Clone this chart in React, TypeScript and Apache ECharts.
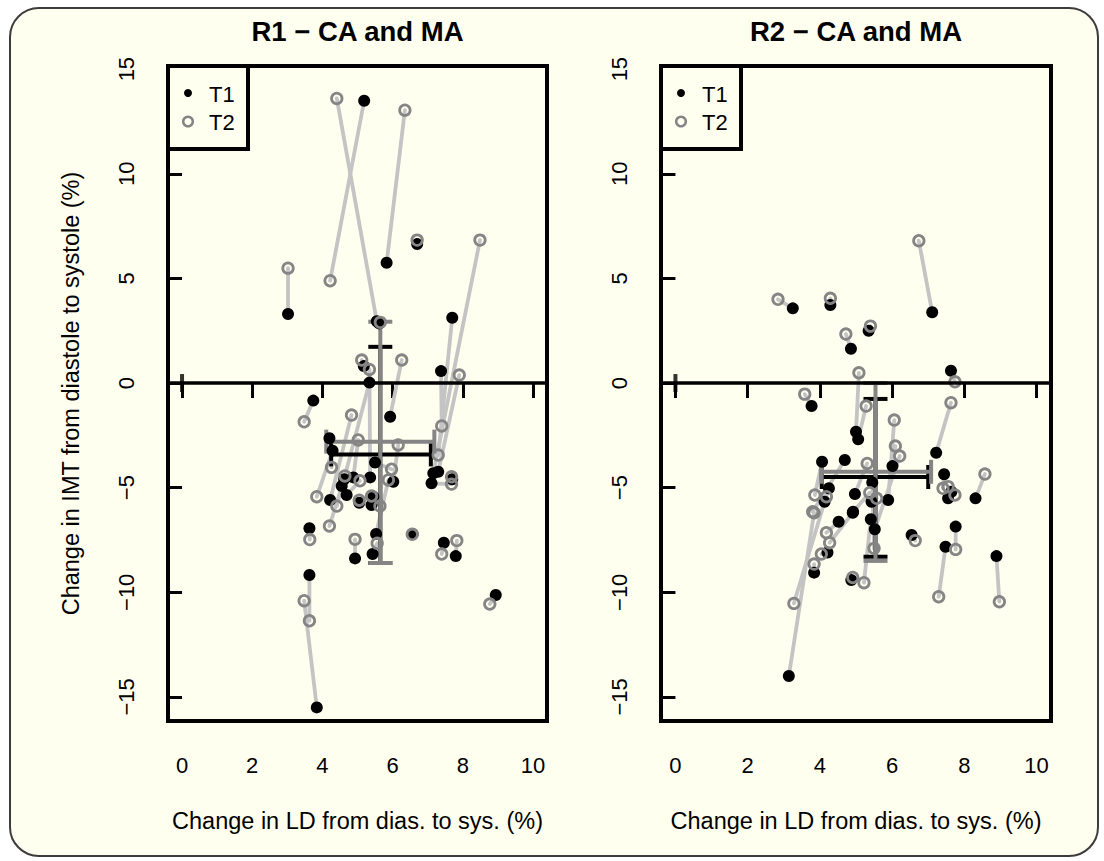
import React, { useEffect, useRef } from "react";
import * as echarts from "echarts";

const FONT = "'Liberation Sans', Arial, sans-serif";

// Axis ticks
const xTicks = [0, 2, 4, 6, 8, 10];
const yTicks = [-15, -10, -5, 0, 5, 10, 15];

const panelTitles = ["R1 \u2212 CA and MA", "R2 \u2212 CA and MA"];
const xAxisTitle = "Change in LD from dias. to sys. (%)";
const yAxisTitle = "Change in IMT from diastole to systole (%)";
const legendLabels = ["T1", "T2"];

// R1 — T1 (black) and T2 (grey) values per subject
const r1T1X = [5.19, 5.55, 5.83, 3.02, 6.7, 7.7, 7.38, 5.34, 5.18, 5.93, 3.74, 4.22, 4.2, 4.29, 7.16, 7.3, 7.11, 7.7, 5.36, 4.88, 6.02, 4.55, 4.69, 5.4, 5.05, 3.63, 4.93, 5.53, 5.43, 6.57, 7.46, 7.8, 3.63, 3.84, 8.94, 5.5, 5.45, 4.62, 5.62];
const r1T1Y = [13.49, 2.95, 5.75, 3.3, 6.64, 3.12, 0.57, 0.02, 0.81, -1.61, -0.84, -5.59, -2.64, -3.23, -4.31, -4.24, -4.79, -4.6, -4.51, -4.51, -4.72, -4.92, -5.35, -5.83, -5.72, -6.94, -8.38, -7.21, -8.17, -7.21, -7.63, -8.27, -9.17, -15.5, -10.13, -3.8, -5.43, -4.6, 2.85];
const r1T2X = [4.22, 4.41, 6.35, 3.02, 6.7, 7.3, 7.4, 4.64, 5.12, 6.26, 3.48, 4.83, 4.26, 3.84, 8.49, 7.9, 7.68, 7.68, 5.34, 5.02, 6.16, 4.41, 5.07, 5.4, 5.05, 3.64, 4.93, 5.88, 5.56, 6.56, 7.4, 7.83, 3.63, 3.48, 8.77, 5.97, 5.64, 4.2, 5.65];
const r1T2Y = [4.89, 13.6, 13.04, 5.49, 6.83, -3.44, -2.05, -4.44, 1.1, 1.1, -1.85, -1.53, -4.03, -5.43, 6.83, 0.38, -4.83, -4.48, 0.65, -2.72, -2.96, -5.88, -4.67, -5.4, -5.6, -7.48, -7.47, -4.63, -7.66, -7.23, -8.17, -7.53, -11.36, -10.4, -10.56, -4.12, -5.88, -6.83, 2.9];

// R2 — T1 (black) and T2 (grey) values per subject
const r2T1X = [3.25, 4.29, 4.86, 5.35, 7.11, 7.63, 3.77, 5.0, 5.06, 7.22, 5.89, 6.01, 5.52, 4.69, 4.25, 4.13, 4.06, 4.97, 4.92, 5.43, 4.52, 4.21, 4.91, 3.84, 3.14, 4.87, 5.41, 5.45, 6.54, 7.76, 7.48, 8.89, 8.31, 7.44, 7.64, 7.55];
const r2T1Y = [3.57, 3.73, 1.64, 2.5, 3.38, 0.59, -1.1, -2.33, -2.69, -3.33, -5.59, -3.97, -6.99, -3.68, -5.03, -5.67, -3.76, -5.3, -6.15, -5.67, -6.63, -8.1, -6.2, -9.06, -14.0, -9.41, -6.51, -4.75, -7.26, -6.86, -7.82, -8.27, -5.51, -4.36, -5.19, -5.51];
const r2T2X = [2.84, 4.29, 4.72, 5.4, 6.74, 7.74, 3.58, 5.08, 5.28, 7.63, 6.06, 6.09, 6.21, 3.8, 4.18, 3.28, 3.86, 5.31, 5.38, 5.57, 4.18, 4.04, 4.27, 3.84, 3.84, 4.91, 5.22, 5.5, 6.64, 7.76, 7.29, 8.97, 8.57, 7.41, 7.74, 7.55];
const r2T2Y = [4.0, 4.05, 2.34, 2.72, 6.8, 0.06, -0.53, 0.49, -1.1, -0.94, -1.77, -3.01, -3.49, -6.15, -5.43, -10.53, -5.35, -3.84, -5.24, -5.51, -7.15, -8.17, -7.63, -8.65, -6.2, -9.29, -9.54, -7.9, -7.53, -7.95, -10.21, -10.45, -4.35, -5.03, -5.35, -4.95];

// Mean ± SD crosses: [meanX, meanY, xLow, xHigh, yLow, yHigh]
const r1CrossT1 = [5.65, -3.41, 4.25, 7.09, -8.6, 1.73];
const r1CrossT2 = [5.65, -2.8, 4.11, 7.19, -8.6, 2.93];
const r2CrossT1 = [5.54, -4.49, 4.05, 7.0, -8.3, -0.76];
const r2CrossT2 = [5.54, -4.24, 4.05, 7.08, -8.5, 0.0];

const panels = [
  { title: panelTitles[0], t1x: r1T1X, t1y: r1T1Y, t2x: r1T2X, t2y: r1T2Y, c1: r1CrossT1, c2: r1CrossT2, left: 168, width: 379 },
  { title: panelTitles[1], t1x: r2T1X, t1y: r2T1Y, t2x: r2T2X, t2y: r2T2Y, c1: r2CrossT1, c2: r2CrossT2, left: 661, width: 390 },
];

const GRID_TOP = 66;
const GRID_H = 655;
const GREY = "#858585";
const LIGHT = "#c4c4c4";

const fmtNum = (v: number) => (v < 0 ? "\u2212" + Math.abs(v) : String(v));

export default function App() {
  const ref = useRef<HTMLDivElement>(null);

  useEffect(() => {
    if (!ref.current) return;
    const chart = echarts.init(ref.current, null, { renderer: "svg" });

    const grids: any[] = [];
    const xAxes: any[] = [];
    const yAxes: any[] = [];
    const series: any[] = [];
    const graphics: any[] = [];

    panels.forEach((p, i) => {
      grids.push({
        left: p.left,
        top: GRID_TOP,
        width: p.width,
        height: GRID_H,
        show: true,
        borderColor: "#000",
        borderWidth: 4,
        backgroundColor: "transparent",
      });
      xAxes.push({
        type: "value",
        gridIndex: i,
        min: -0.4,
        max: 10.4,
        axisLine: { show: false },
        splitLine: { show: false },
        axisTick: { show: true, length: 15, customValues: xTicks, lineStyle: { color: "#000", width: 3 } },
        axisLabel: { customValues: xTicks, margin: 33, color: "#000", fontSize: 22, fontFamily: FONT, formatter: (v: number) => fmtNum(v) },
        name: xAxisTitle,
        nameLocation: "middle",
        nameGap: 88,
        nameTextStyle: { color: "#000", fontSize: 23.5, fontFamily: FONT },
      });
      yAxes.push({
        type: "value",
        gridIndex: i,
        min: -16.15,
        max: 15.15,
        axisLine: { show: false },
        splitLine: { show: false },
        axisTick: { show: true, length: 15, customValues: yTicks, lineStyle: { color: "#000", width: 3 } },
        axisLabel: { customValues: yTicks, margin: 31, rotate: 90, color: "#000", fontSize: 22, fontFamily: FONT, formatter: (v: number) => fmtNum(v) },
        name: i === 0 ? yAxisTitle : "",
        nameLocation: "middle",
        nameRotate: 90,
        nameGap: 85,
        nameTextStyle: { color: "#000", fontSize: 23.5, fontFamily: FONT },
      });

      // connecting segments
      series.push({
        type: "custom",
        xAxisIndex: i,
        yAxisIndex: i,
        silent: true,
        data: p.t1x.map((x, k) => [x, p.t1y[k], p.t2x[k], p.t2y[k]]),
        encode: { x: [0, 2], y: [1, 3] },
        renderItem: (params: any, api: any) => {
          const a = api.coord([api.value(0), api.value(1)]);
          const b = api.coord([api.value(2), api.value(3)]);
          return {
            type: "line",
            shape: { x1: a[0], y1: a[1], x2: b[0], y2: b[1] },
            style: { stroke: LIGHT, lineWidth: 3.8, lineCap: "round" },
          };
        },
      });

      // zero reference line with marker at x = 0
      series.push({
        type: "scatter",
        xAxisIndex: i,
        yAxisIndex: i,
        silent: true,
        data: [[0, 0]],
        symbol: "rect",
        symbolSize: [4, 18],
        itemStyle: { color: "#000" },
        markLine: {
          silent: true,
          symbol: "none",
          label: { show: false },
          lineStyle: { color: "#000", width: 3.5, type: "solid" },
          data: [{ yAxis: 0 }],
        },
      });

      // T1 points
      series.push({
        type: "scatter",
        xAxisIndex: i,
        yAxisIndex: i,
        silent: true,
        symbol: "circle",
        symbolSize: 12,
        itemStyle: { color: "#000", opacity: 1 },
        data: p.t1x.map((x, k) => [x, p.t1y[k]]),
      });

      // T2 points
      series.push({
        type: "scatter",
        xAxisIndex: i,
        yAxisIndex: i,
        silent: true,
        symbol: "circle",
        symbolSize: 10.5,
        itemStyle: { color: "rgba(0,0,0,0)", borderColor: GREY, borderWidth: 2.8, opacity: 1 },
        data: p.t2x.map((x, k) => [x, p.t2y[k]]),
      });

      // mean ± SD crosses
      [p.c1, p.c2].forEach((c, ci) => {
        const col = ci === 0 ? "#000" : GREY;
        series.push({
          type: "custom",
          xAxisIndex: i,
          yAxisIndex: i,
          silent: true,
          data: [c],
          encode: { x: [0, 2, 3], y: [1, 4, 5] },
          renderItem: (params: any, api: any) => {
            const mx = api.value(0), my = api.value(1);
            const xl = api.coord([api.value(2), my]);
            const xh = api.coord([api.value(3), my]);
            const yl = api.coord([mx, api.value(4)]);
            const yh = api.coord([mx, api.value(5)]);
            const cap = 12;
            const st = { stroke: col, lineWidth: 4 };
            const ln = (x1: number, y1: number, x2: number, y2: number) => ({ type: "line", shape: { x1, y1, x2, y2 }, style: st });
            return {
              type: "group",
              children: [
                ln(xl[0], xl[1], xh[0], xh[1]),
                ln(xl[0], xl[1] - cap, xl[0], xl[1] + cap),
                ln(xh[0], xh[1] - cap, xh[0], xh[1] + cap),
                ln(yl[0], yl[1], yh[0], yh[1]),
                ln(yl[0] - cap, yl[1], yl[0] + cap, yl[1]),
                ln(yh[0] - cap, yh[1], yh[0] + cap, yh[1]),
              ],
            };
          },
        });
      });

      // title
      graphics.push({
        type: "text",
        x: p.left + p.width / 2,
        y: 31,
        style: { text: p.title, font: `bold 27.5px ${FONT}`, fill: "#000", align: "center", verticalAlign: "middle" },
      });

      // legend
      const L = p.left;
      graphics.push({
        type: "rect",
        shape: { x: L, y: GRID_TOP, width: 80, height: 83 },
        style: { fill: "#fffff0", stroke: "#000", lineWidth: 4 },
        z: 100,
      });
      graphics.push({ type: "circle", shape: { cx: L + 20, cy: 93, r: 4 }, style: { fill: "#000" }, z: 101 });
      graphics.push({ type: "circle", shape: { cx: L + 20, cy: 121.5, r: 4.8 }, style: { fill: "none", stroke: GREY, lineWidth: 2.5 }, z: 101 });
      graphics.push({ type: "text", x: L + 41, y: 94, style: { text: legendLabels[0], font: `22px ${FONT}`, fill: "#000", verticalAlign: "middle" }, z: 101 });
      graphics.push({ type: "text", x: L + 41, y: 122, style: { text: legendLabels[1], font: `22px ${FONT}`, fill: "#000", verticalAlign: "middle" }, z: 101 });
    });

    chart.setOption({
      animation: false,
      backgroundColor: "transparent",
      grid: grids,
      xAxis: xAxes,
      yAxis: yAxes,
      series,
      graphic: graphics,
    });

    return () => chart.dispose();
  }, []);

  return (
    <div style={{ position: "fixed", left: 0, top: 0, width: 1104, height: 861, background: "#fff" }}>
      <div
        style={{
          position: "absolute",
          left: 9,
          top: 7,
          width: 1086,
          height: 846,
          border: "2.5px solid #3c3c3c",
          borderRadius: 30,
          background: "#fffff0",
        }}
      />
      <div ref={ref} style={{ position: "absolute", left: 0, top: 0, width: 1104, height: 861 }} />
    </div>
  );
}
